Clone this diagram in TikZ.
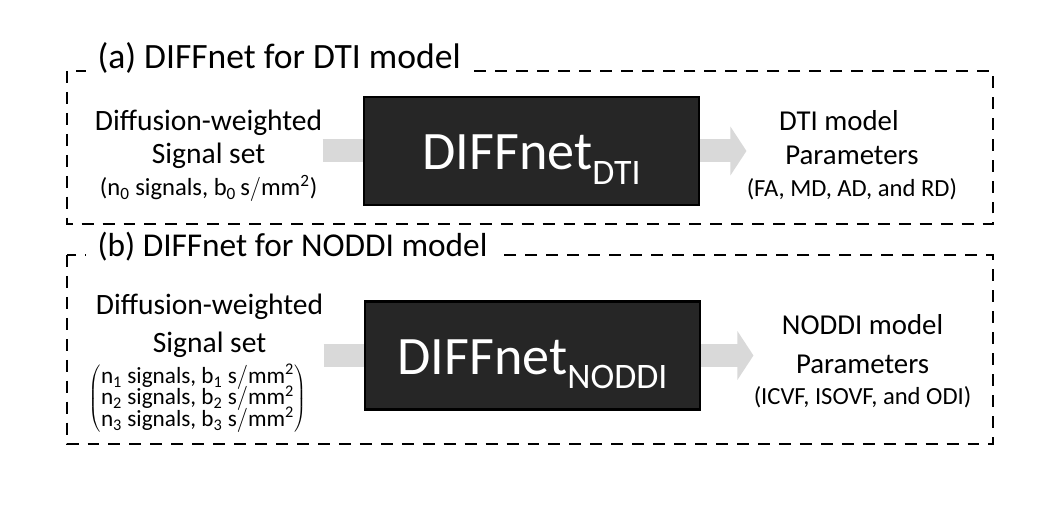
\documentclass[tikz,border=0pt]{standalone}
\usepackage{fontspec}
\setmainfont{Carlito}
\usetikzlibrary{arrows.meta, positioning}
\definecolor{arrowgray}{RGB}{217,217,217}
\definecolor{boxgray}{RGB}{38,38,38}
\newcommand{\netsub}[1]{\raisebox{-0.36cm}{\fontsize{25.5}{26}\selectfont #1}}
\newcommand{\smallline}{\fontsize{17.5}{20}\selectfont}
\newcommand{\matline}{\fontsize{16.5}{15}\selectfont}
\tikzset{
  groupbox/.style = {draw=black, line width=2.1pt, dash pattern=on 8.5pt off 6.4pt},
  grouptitle/.style = {fill=white, inner xsep=8pt, inner ysep=2pt, anchor=base west},
  signal/.style = {align=center, inner sep=0pt, font=\fontsize{21}{23.5}\selectfont},
  netbox/.style = {rectangle, draw=black, line width=2pt, fill=boxgray, text=white, minimum width=8.375cm, minimum height=2.7cm, text height=1.325cm, text depth=0.375cm, font=\fontsize{38.5}{40}\selectfont},
  param/.style = {align=center, inner sep=0pt, font=\fontsize{20.5}{22.5}\selectfont},
  feed/.style = {draw=arrowgray, line width=0.575cm},
  feedtip/.style = {feed, -{Triangle[length=0.4cm, width=1.2cm]}}
}

\begin{document}
\begin{tikzpicture}[x=0.025cm, y=-0.025cm]
  \useasboundingbox (0,0) rectangle (1052,523);

  % (a) DIFFnet for DTI
  \draw[groupbox] (67,71) rectangle (993,224);
  \node (titleA) [grouptitle, font=\fontsize{25.3}{28}\selectfont] at (86,69) {(a) DIFFnet for DTI model};
  \node (netA) [netbox] at (531.5,151) {DIFFnet\netsub{DTI}};
  \node (inA) [signal, left=1cm of netA, yshift=-0.12cm] {Diffusion-weighted\\Signal set\\[-1pt]{\smallline (n\textsubscript{0} signals, b\textsubscript{0}\,$\mathrm{s/mm^2}$)}};
  \node (outA) [param, right=1.15cm of netA, yshift=-0.1cm] {DTI model\hspace*{0.65cm}\\[2pt]Parameters\hspace*{0.4cm}\\{\smallline (FA, MD, AD, and RD)}};

  \draw[feed] (netA.west -| inA.east) -- (netA.west);
  \draw[feedtip] (netA.east) -- (netA.east -| outA.west);

  % (b) DIFFnet for NODDI
  \draw[groupbox] (67,255) rectangle (993,444);
  \node (titleB) [grouptitle, font=\fontsize{23.7}{27}\selectfont] at (86,257) {(b) DIFFnet for NODDI model};
  \node (netB) [netbox] at (532.5,355.5) {DIFFnet\netsub{NODDI}};
  \node (inB) [signal, left=1cm of netB, yshift=-0.2cm] {Diffusion-weighted\\[3pt]Signal set\\[4pt]{\matline \hspace*{-0.6cm}$\left(\begin{array}{@{}c@{}}
      \mbox{n\textsubscript{1} signals, b\textsubscript{1} $\mathrm{s/mm^2}$}\\[-3pt]
      \mbox{n\textsubscript{2} signals, b\textsubscript{2} $\mathrm{s/mm^2}$}\\[-3pt]
      \mbox{n\textsubscript{3} signals, b\textsubscript{3} $\mathrm{s/mm^2}$}
    \end{array}\right)$}};
  \node (outB) [param, right=1.3cm of netB, yshift=-0.15cm] {NODDI model\\[5pt]Parameters\hspace*{0.65cm}\\{\smallline (ICVF, ISOVF, and ODI)}};

  \draw[feed] (netB.west -| inB.east) -- (netB.west);
  \draw[feedtip] (netB.east) -- (netB.east -| outB.west);
\end{tikzpicture}
\end{document}
